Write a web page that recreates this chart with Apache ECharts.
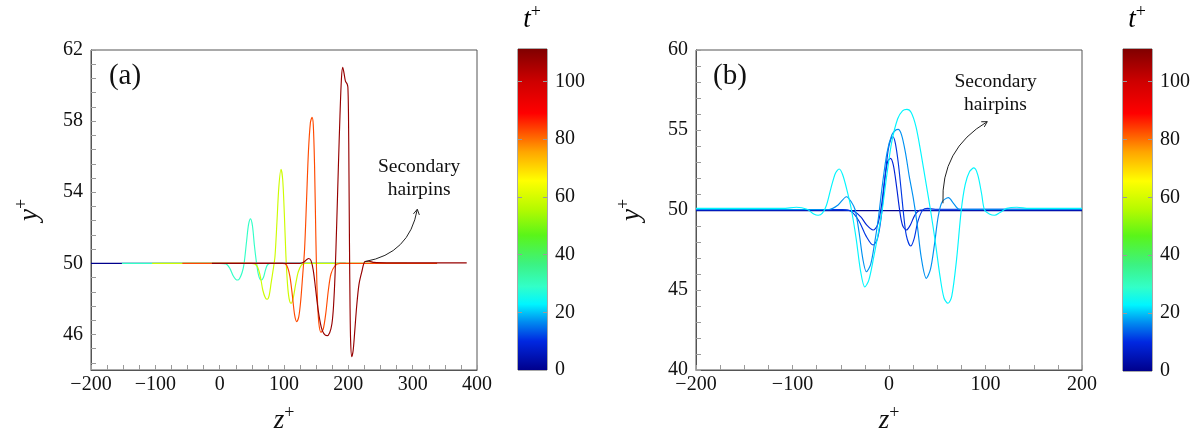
<!DOCTYPE html>
<html>
<head>
<meta charset="utf-8">
<script src="https://cdn.jsdelivr.net/npm/echarts@6/dist/echarts.min.js"></script>
<style>
html,body{margin:0;padding:0;background:#fff;}
#c{width:1199px;height:433px;}
</style>
</head>
<body>
<div id="c"></div>
<script>
// ---------------- DATA ----------------
const tMax = 111.2;
const cbTicks = [0, 20, 40, 60, 80, 100];

// Panel (a): t+ value of each curve
const tA = [0, 29, 59, 83, 108];
const curveA0 = [[-200,50],[196,50]];
const curveA1 = [[-152,50],[0,50],[10,49.97],[16,49.7],[21,49.3],[25,49.1],[28,49.06],[31,49.15],[35,49.5],[38,50],[42,51.3],[45,52.2],[48,52.5],[51,52.1],[54,51],[57,50.1],[60,49.4],[62.5,49.12],[65,49.06],[68,49.2],[71,49.6],[74,49.9],[78,50],[244,50]];
const curveA2 = [[-105,50],[50,50],[58,49.85],[63,49.3],[67,48.5],[71,48.07],[74,47.98],[77,48.2],[80,48.9],[83,49.6],[86,50.4],[89,52.3],[92,54.3],[95.4,55.29],[98,54.7],[100.5,52.8],[103,50.4],[105.5,48.8],[108,48],[111,47.75],[114,48],[118,48.8],[122,49.5],[127,49.9],[132,50],[291,50]];
const curveA3 = [[-58,50],[98,50],[104,49.9],[109,49.3],[113,48.2],[116.5,47.1],[119.8,46.72],[123,47],[126,47.9],[129,49.3],[132,50.8],[135,53.5],[138,56.3],[141,57.9],[143.5,58.21],[145.5,57.8],[147.5,55.5],[149.5,51.5],[151.5,48.4],[154,46.7],[157.5,46.12],[161,46.3],[165,47.2],[169,48.5],[173,49.4],[179,49.85],[187,50],[338,50]];
const curveA4 = [[-12,50],[125,50],[131,50.08],[135,50.2],[138.5,50.27],[142,50.15],[145.5,49.6],[149,48.6],[153,47.4],[158,46.4],[162,46.05],[166.9,45.93],[171,46.1],[174.5,46.6],[177,47.6],[179.5,49.5],[182,52.3],[184.5,55.4],[187,58.3],[189.3,60.4],[191.3,61.03],[193.3,60.7],[195.5,60.25],[198,60.1],[199.3,59.9],[200.2,58.5],[201,55],[201.8,51],[202.6,47.8],[203.6,45.6],[205.3,44.75],[207.5,45.1],[210,46.2],[213,47.6],[216.5,48.8],[220.8,49.5],[225.9,50.1],[232,50.12],[240,50.05],[260,50.03],[384,50.03]];
const curvesA = [curveA0, curveA1, curveA2, curveA3, curveA4];

// Panel (b)
const tB = [0, 9, 11, 17, 23];
const curveB0 = [[-200,49.96],[200,49.96]];
const curveB1 = [[-200,50],[-45,50],[-36,49.9],[-29,49.55],[-23,49.05],[-16.5,48.75],[-12,49.05],[-8,50.2],[-4.5,51.9],[-1.5,53],[1.5,53.23],[4.5,52.8],[8,51.4],[11,50],[14,49.05],[18,48.75],[22,49.05],[27,49.7],[33,50],[200,50]];
const curveB2 = [[-200,50.02],[-48,50.02],[-39,49.9],[-31,49.3],[-24,48.4],[-16.5,47.81],[-12,48.2],[-8,49.6],[-4.5,51.8],[-1,53.7],[2,54.45],[4.1,54.58],[6.5,54.2],[9.5,53],[12.5,51.3],[15,49.8],[18,48.4],[22.4,47.75],[26,48.2],[30,49.3],[35,50],[40,50.1],[48,50.05],[200,50.05]];
const curveB3 = [[-200,50.03],[-62,50.03],[-53,50.3],[-44,50.83],[-39,50.5],[-35,50],[-31,48.6],[-27,46.9],[-23.4,46.14],[-19,46.6],[-15,47.9],[-11,49.5],[-7,51.5],[-2,53.6],[3,54.7],[7,55],[9.5,55.04],[13,54.7],[17,53.6],[21,52.1],[25,50.8],[29,49.2],[33.5,47],[38.7,45.73],[43,46.3],[47,47.8],[51,49.6],[55,50.5],[61.5,50.77],[67,50.4],[73,50.05],[200,50.05]];
const curveB4 = [[-200,50.1],[-110,50.1],[-96,50.17],[-85,50.05],[-78,49.75],[-73.4,49.67],[-69,49.8],[-64.8,50.3],[-60,51.4],[-55.5,52.3],[-51.7,52.56],[-48,52.2],[-43,51.1],[-38.9,50],[-34,48.2],[-29.5,46.2],[-25.1,45.19],[-21,45.6],[-16,47],[-11,48.6],[-6.8,50.1],[-2,52.3],[3,54.3],[9,55.7],[14,56.2],[18.6,56.29],[23,56.1],[28,55.2],[33,53.6],[38,51.8],[43,50],[48,48],[53,45.8],[57,44.5],[61.1,44.17],[65,44.6],[70,46.9],[74.9,50],[79,51.6],[83.5,52.4],[88,52.63],[92,52.2],[96,51],[99,50],[104,49.75],[109.4,49.67],[115,49.85],[122,50.1],[132.5,50.17],[145,50.1],[200,50.1]];
const curvesB = [curveB0, curveB1, curveB2, curveB3, curveB4];

const yTickA = [46, 50, 54, 58, 62];
const yMinorA = [44.4,45.2,46,46.8,47.6,48.4,49.2,50,50.8,51.6,52.4,53.2,54,54.8,55.6,56.4,57.2,58,58.8,59.6,60.4,61.2,62];

// annotations (data coordinates)
const arrowA = [[225.9, 50.1], [307.2, 53.04]];
const textA = [310, 54.77];
const arrowB = [[55.9, 50.42], [101.8, 55.52]];
const textB = [110.4, 57.29];

// ---------------- STYLE ----------------
const FONT = 'Liberation Serif';
const jet = [
  [0.00, [0, 0, 140]],
  [0.09, [0, 40, 225]],
  [0.15, [0, 140, 240]],
  [0.205, [0, 245, 255]],
  [0.26, [50, 255, 200]],
  [0.33, [60, 242, 130]],
  [0.42, [90, 245, 25]],
  [0.50, [180, 250, 0]],
  [0.59, [255, 255, 0]],
  [0.68, [255, 165, 0]],
  [0.80, [255, 0, 0]],
  [0.90, [205, 0, 0]],
  [1.00, [128, 0, 0]]
];
function rgb(c){ return 'rgb(' + c.map(v => Math.round(v)).join(',') + ')'; }
function tColor(t){
  const f = Math.max(0, Math.min(1, t / tMax));
  for (let i = 1; i < jet.length; i++) {
    if (f <= jet[i][0]) {
      const a = jet[i-1], b = jet[i];
      const u = (f - a[0]) / (b[0] - a[0]);
      return rgb(a[1].map((v, k) => v + (b[1][k] - v) * u));
    }
  }
  return rgb(jet[jet.length-1][1]);
}
const gradStops = jet.map(s => ({offset: s[0], color: rgb(s[1])}));

const AXC = '#555';
const TICKC = '#9a9a9a';
const minus = v => (v < 0 ? '\u2212' + (-v) : String(v));
const nameRich = {
  i: {fontFamily: FONT, fontStyle: 'italic', fontSize: 27, color: '#111', verticalAlign: 'bottom', padding: [0,0,0,0]},
  s: {fontFamily: FONT, fontSize: 18, color: '#111', verticalAlign: 'bottom', padding: [0,0,12,0]}
};
const labelStyle = {fontFamily: FONT, fontSize: 20, color: '#111'};

const G_A = {left: 91, top: 50, width: 386, height: 320};
const G_CA = {left: 518, top: 49, width: 29, height: 321};
const G_B = {left: 696, top: 50, width: 386, height: 320};
const G_CB = {left: 1123, top: 49, width: 29, height: 322};

function grid(g){ return Object.assign({show: true, borderColor: AXC, borderWidth: 1, backgroundColor: 'transparent', containLabel: false, outerBoundsMode: 'none'}, g); }

function panelX(gi, min, max){
  return {
    type: 'value', gridIndex: gi, min: min, max: max, interval: 100,
    axisLine: {show: true, onZero: false, lineStyle: {color: AXC}},
    axisTick: {show: true, inside: true, length: 5, lineStyle: {color: TICKC}},
    minorTick: {show: true, splitNumber: 4, length: 5, lineStyle: {color: TICKC}},
    splitLine: {show: false},
    axisLabel: Object.assign({margin: 5, formatter: minus}, labelStyle),
    name: '{i|z}{s|+}', nameLocation: 'middle', nameGap: 34,
    nameTextStyle: {rich: nameRich}
  };
}
function cbX(gi){
  return {type: 'category', gridIndex: gi, data: ['t'], show: false, boundaryGap: true};
}
function cbY(gi, pos, withLabel){
  return {
    type: 'value', gridIndex: gi, min: 0, max: tMax, position: pos, z: 5,
    axisLine: {show: false},
    axisTick: {show: true, inside: true, length: 4, lineStyle: {color: TICKC}, customValues: cbTicks.slice(1)},
    splitLine: {show: false},
    axisLabel: Object.assign({show: withLabel, margin: 8, customValues: cbTicks}, labelStyle)
  };
}

const series = [];
curvesA.forEach((d, i) => {
  series.push({
    type: 'line', xAxisIndex: 0, yAxisIndex: 0, data: d, showSymbol: false, symbol: 'none',
    smooth: 0.3, silent: true, animation: false, z: 3,
    lineStyle: {color: tColor(tA[i]), width: 1.15}
  });
});
curvesB.forEach((d, i) => {
  series.push({
    type: 'line', xAxisIndex: 2, yAxisIndex: 3, data: d, showSymbol: false, symbol: 'none',
    smooth: 0.3, silent: true, animation: false, z: 3,
    lineStyle: {color: tColor(tB[i]), width: 1.15}
  });
});
function annotText(xi, yi, txt){
  return {
    type: 'line', xAxisIndex: xi, yAxisIndex: yi, data: [], silent: true, animation: false, z: 4,
    markPoint: {
      silent: true, animation: false, symbol: 'circle', symbolSize: 0,
      label: {show: true, position: 'inside', formatter: 'Secondary\nhairpins', fontFamily: FONT, fontSize: 19.5, lineHeight: 23, color: '#111', align: 'center'},
      data: [{coord: txt}]
    }
  };
}
series.push(annotText(0, 0, textA));
series.push(annotText(2, 3, textB));
// colour bars
[[1, 1], [3, 4]].forEach(([xi, yi]) => {
  series.push({
    type: 'bar', xAxisIndex: xi, yAxisIndex: yi, data: [tMax], barWidth: '100%', silent: true, animation: false, z: 1,
    itemStyle: {color: new echarts.graphic.LinearGradient(0, 1, 0, 0, gradStops)}
  });
});

const baseGraphic = [
  {type: 'text', x: 125, y: 76, style: {text: '(a)', fontFamily: FONT, fontSize: 29, fill: '#111', align: 'center', verticalAlign: 'middle'}},
  {type: 'text', x: 730, y: 76, style: {text: '(b)', fontFamily: FONT, fontSize: 29, fill: '#111', align: 'center', verticalAlign: 'middle'}},
  {type: 'text', x: 532, y: 18, style: {text: '{i|t}{s|+}', rich: nameRich, align: 'center', verticalAlign: 'middle'}},
  {type: 'text', x: 1137, y: 18, style: {text: '{i|t}{s|+}', rich: nameRich, align: 'center', verticalAlign: 'middle'}}
];

const option = {
  animation: false,
  backgroundColor: '#fff',
  grid: [grid(G_A), grid(G_CA), grid(G_B), grid(G_CB)],
  xAxis: [panelX(0, -200, 400), cbX(1), panelX(2, -200, 200), cbX(3)],
  yAxis: [
    {
      type: 'value', gridIndex: 0, min: 44, max: 62, interval: 2,
      axisLine: {show: true, onZero: false, lineStyle: {color: AXC}},
      axisTick: {show: true, inside: true, length: 5, lineStyle: {color: TICKC}, customValues: yMinorA},
      splitLine: {show: false},
      axisLabel: Object.assign({margin: 8, customValues: yTickA}, labelStyle),
      name: '{i|y}{s|+}', nameLocation: 'middle', nameGap: 48, nameTextStyle: {rich: nameRich}
    },
    cbY(1, 'right', true),
    cbY(1, 'left', false),
    {
      type: 'value', gridIndex: 2, min: 40, max: 60, interval: 5,
      axisLine: {show: true, onZero: false, lineStyle: {color: AXC}},
      axisTick: {show: true, inside: true, length: 5, lineStyle: {color: TICKC}},
      minorTick: {show: true, splitNumber: 5, length: 5, lineStyle: {color: TICKC}},
      splitLine: {show: false},
      axisLabel: Object.assign({margin: 8}, labelStyle),
      name: '{i|y}{s|+}', nameLocation: 'middle', nameGap: 51, nameTextStyle: {rich: nameRich}
    },
    cbY(3, 'right', true),
    cbY(3, 'left', false)
  ],
  graphic: baseGraphic,
  series: series
};

const chart = echarts.init(document.getElementById('c'), null, {renderer: 'canvas'});
chart.setOption(option);

// curved annotation arrows, positioned through the axes
function arrowGraphic(xi, yi, arrow, curv){
  const p1 = chart.convertToPixel({xAxisIndex: xi, yAxisIndex: yi}, arrow[0]);
  const p2 = chart.convertToPixel({xAxisIndex: xi, yAxisIndex: yi}, arrow[1]);
  const mx = (p1[0] + p2[0]) / 2, my = (p1[1] + p2[1]) / 2;
  const cp = [mx - (p1[1] - p2[1]) * curv, my - (p2[0] - p1[0]) * curv];
  let dx = p2[0] - cp[0], dy = p2[1] - cp[1];
  const L = Math.hypot(dx, dy); dx /= L; dy /= L;
  const len = 6, ang = Math.PI / 6;
  const rot = (a) => [p2[0] - len * (dx * Math.cos(a) - dy * Math.sin(a)), p2[1] - len * (dx * Math.sin(a) + dy * Math.cos(a))];
  return [
    {type: 'bezierCurve', silent: true, z: 10, shape: {x1: p1[0], y1: p1[1], x2: p2[0], y2: p2[1], cpx1: cp[0], cpy1: cp[1]}, style: {stroke: '#222', lineWidth: 1, fill: null}},
    {type: 'polyline', silent: true, z: 10, shape: {points: [rot(ang), p2, rot(-ang)]}, style: {stroke: '#222', lineWidth: 1, fill: null}}
  ];
}
chart.setOption({graphic: baseGraphic.concat(arrowGraphic(0, 0, arrowA, -0.35), arrowGraphic(2, 3, arrowB, 0.3))}, {replaceMerge: ['graphic']});
</script>
</body>
</html>
